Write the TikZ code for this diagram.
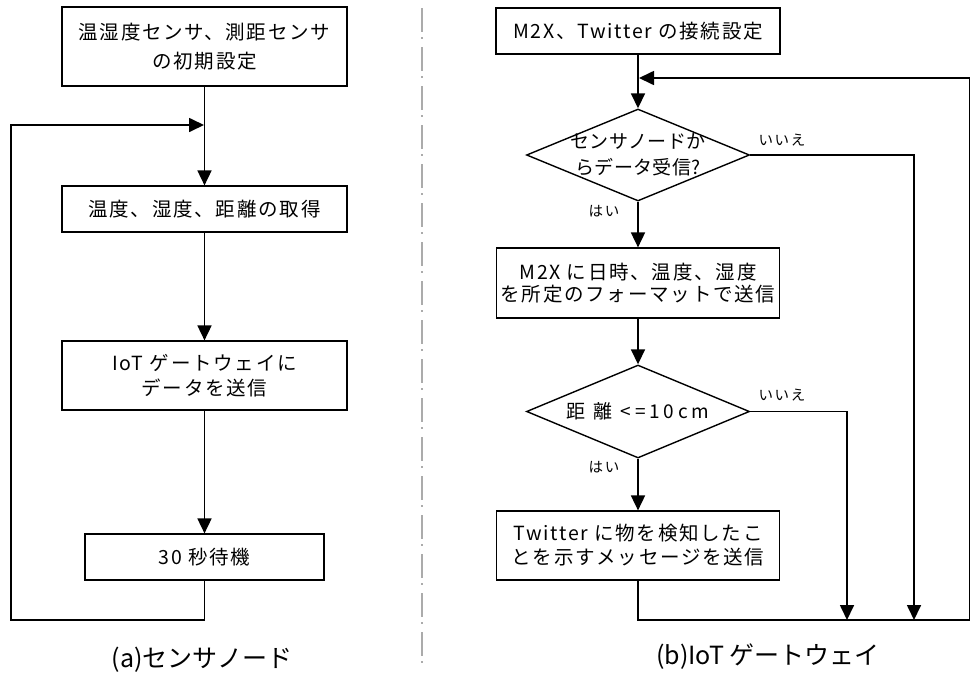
\documentclass[tikz,border=0pt]{standalone}
\usepackage{fontspec}
\usetikzlibrary{arrows.meta,shapes.geometric}
\newfontfamily\jpfont[LetterSpace=9]{Noto Sans CJK JP}
\newfontfamily\jpdfont[LetterSpace=2]{Noto Sans CJK JP}
\newfontfamily\jpwfont[LetterSpace=20]{Noto Sans CJK JP}
\newfontfamily\jplfont[LetterSpace=12]{Noto Sans CJK JP}
\newfontfamily\jpcfont{Noto Sans CJK JP}
\newcommand\bxfnt[1]{\jpfont\fontsize{19.5}{#1}\selectfont}
\newcommand\dafnt[1]{\jpdfont\fontsize{19}{#1}\selectfont}
\newcommand\dwfnt[1]{\jpwfont\fontsize{19}{#1}\selectfont}
\begin{document}
\begin{tikzpicture}[x=1pt,y=-1pt,
  box/.style={draw, line width=1.2pt, rectangle, inner sep=0pt, align=center},
  dia/.style={draw, diamond, line width=1.4pt, inner sep=0pt},
  flow/.style={line width=1.7pt, -{Triangle[length=15pt,width=14pt]}},
  lbl/.style={font=\jplfont\fontsize{14.5}{16}\selectfont, inner sep=0pt},
  captext/.style={font=\jpcfont\fontsize{25}{30}\selectfont, inner sep=0pt},
  divider/.style={draw=black!33, line width=2pt, dash pattern=on 24pt off 5pt on 2pt off 8pt}]
\useasboundingbox (0,0) rectangle (971,675);
\fill[white] (0,0) rectangle (971,675);

% divider
\coordinate (dvt) at (422,8);
\coordinate (dvb) at (422,667);
\draw[divider] (dvt) -- (dvb);

% ---------- left panel ----------
\node[box, minimum width=285, minimum height=79, font={\bxfnt{29}}] (b1) at (204.5,46.5) {温湿度センサ、測距センサ\\の初期設定};
\node[box, minimum width=285, minimum height=46, font={\bxfnt{24}}] (b2) at (204.5,209) {温度、湿度、距離の取得};
\node[box, minimum width=285, minimum height=69, font={\bxfnt{25}}] (b3) at (204.5,375.5) {IoT ゲートウェイに\\データを送信};
\node[box, minimum width=239, minimum height=46, font={\bxfnt{24}}] (b4) at (204.5,557) {30 秒待機};
\node[captext] (capa) at (202,660) {(a)センサノード};

\coordinate (lp) at (204,125);
\coordinate (lb) at (204.5,620);
\coordinate (ll) at (11,620);
\coordinate (lt) at (11,125);
\draw[flow] (b1) -- (b2);
\draw[flow] (b2) -- (b3);
\draw[flow] (b3) -- (b4);
\draw[flow] (b4.south) -- (lb) -- (ll) -- (lt) -- (lp);

% ---------- right panel ----------
\node[box, minimum width=284, minimum height=46, font={\bxfnt{24}}] (r1) at (638,31) {M2X、Twitter の接続設定};
\node[dia, minimum width=223, minimum height=92] (d1) at (638,155) {};
\node[inner sep=0pt, align=center, font={\dafnt{26}}] (d1t) at (d1.center) {センサノードか\\らデータ受信?};
\node[box, minimum width=283, minimum height=70, font={\bxfnt{22}}] (r2) at (638,283) {M2X に日時、温度、湿度\\を所定のフォーマットで送信};
\node[dia, minimum width=223, minimum height=93] (d2) at (638,411.5) {};
\node[inner sep=0pt, font={\dwfnt{24}}] (d2t) at (d2.center) {距 離 <=10cm};
\node[box, minimum width=283, minimum height=69, font={\bxfnt{24}}] (r3) at (638,545.5) {Twitter に物を検知したこ\\とを示すメッセージを送信};
\node[captext] (capb) at (768,657) {(b)IoT ゲートウェイ};

\node[lbl] (no1) at (782,140) {いいえ};
\node[lbl] (no2) at (782,395) {いいえ};
\node[lbl] (yes1) at (604,211) {はい};
\node[lbl] (yes2) at (604,467) {はい};

\coordinate (n1c) at (914,155);
\coordinate (n1b) at (914,620);
\coordinate (n2c) at (847,411.5);
\coordinate (n2b) at (847,620);
\coordinate (rb) at (638,620);
\coordinate (rbr) at (969.5,620);
\coordinate (rtr) at (969.5,78);
\coordinate (rp) at (639,78);

\draw[flow] (r1) -- (d1);
\draw[flow] (d1) -- (r2);
\draw[flow] (r2) -- (d2);
\draw[flow] (d2) -- (r3);
\draw[flow] (d1.east) -- (n1c) -- (n1b);
\draw[flow] (d2.east) -- (n2c) -- (n2b);
\draw[flow] (r3.south) -- (rb) -- (rbr) -- (rtr) -- (rp);
\end{tikzpicture}
\end{document}
